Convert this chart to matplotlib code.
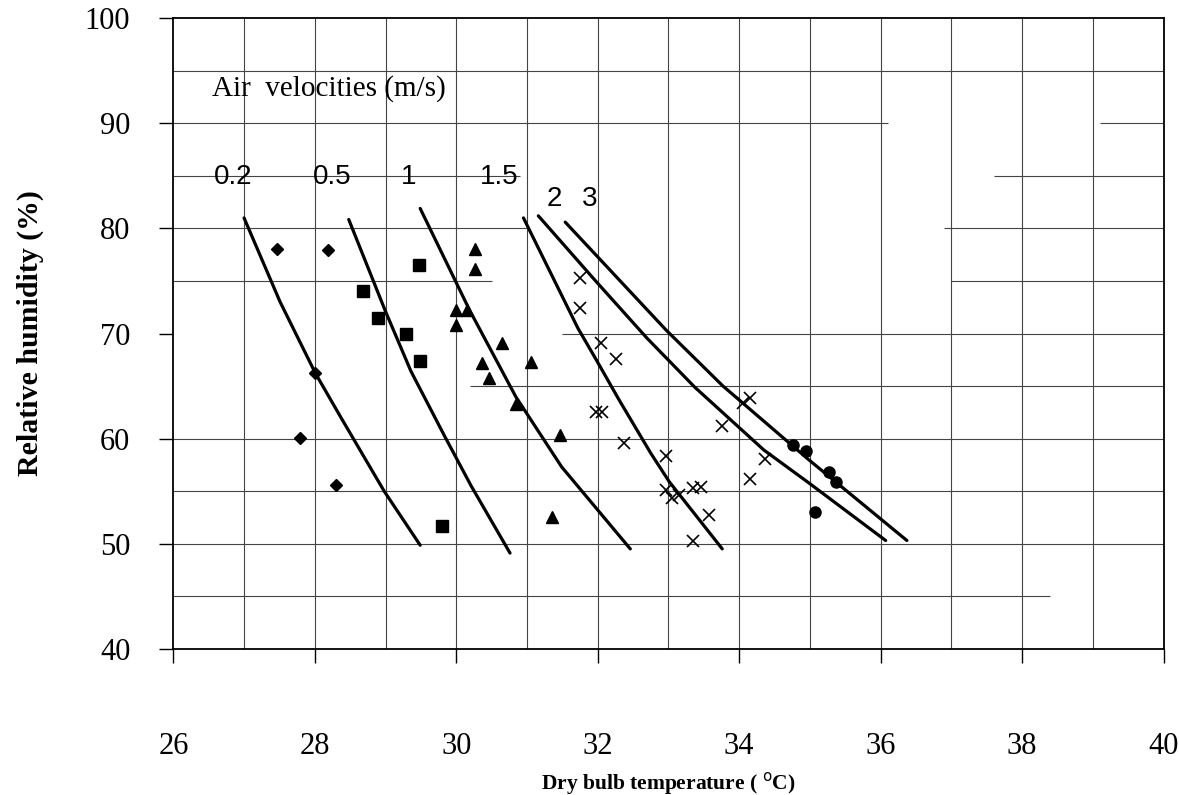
import matplotlib
matplotlib.use("Agg")
import matplotlib.pyplot as plt
import numpy as np

# measured points (dry bulb temperature, relative humidity)
diamond_t = [27.47, 28.18, 28.00, 27.79, 28.30]
diamond_rh = [78.0, 77.9, 66.2, 60.1, 55.6]

square_t = [29.48, 28.68, 28.89, 29.29, 29.49, 29.80]
square_rh = [76.5, 74.05, 71.5, 70.0, 67.4, 51.7]

triangle_t = [30.26, 30.26, 29.99, 30.15, 29.99, 30.64, 30.37, 31.05, 30.46, 30.84, 31.46, 31.36]
triangle_rh = [78.0, 76.1, 72.2, 72.2, 70.8, 69.1, 67.2, 67.3, 65.8, 63.3, 60.3, 52.5]

cross_t = [31.75, 31.75, 32.05, 32.26, 31.97, 32.06, 32.37, 32.97, 32.96, 33.05,
           33.15, 33.34, 33.46, 33.57, 33.35, 33.75, 34.05, 34.15, 34.15, 34.36]
cross_rh = [75.3, 72.4, 69.05, 67.6, 62.55, 62.55, 59.6, 58.3, 55.1, 54.3,
            54.6, 55.3, 55.4, 52.7, 50.25, 61.2, 63.4, 63.9, 56.2, 58.05]

circle_t = [34.76, 34.95, 35.27, 35.37, 35.07]
circle_rh = [59.4, 58.8, 56.8, 55.9, 53.0]

# comfort curves for each air velocity
velocities = ["0.2", "0.5", "1", "1.5", "2", "3"]
curve_t = [
    [27.00, 27.51, 28.01, 28.37, 28.98, 29.49],
    [28.48, 29.00, 29.36, 29.83, 30.21, 30.76],
    [29.49, 30.19, 30.84, 31.49, 32.46],
    [30.95, 31.72, 31.97, 32.30, 32.75, 33.01, 33.76],
    [31.16, 31.97, 32.69, 33.37, 34.35, 34.98, 36.07],
    [31.54, 32.97, 33.77, 34.98, 36.37],
]
curve_rh = [
    [81.0, 73.0, 66.2, 62.0, 55.0, 49.85],
    [80.85, 72.1, 66.4, 60.3, 55.5, 49.1],
    [81.9, 72.2, 64.0, 57.3, 49.5],
    [81.0, 70.5, 67.6, 63.7, 58.6, 55.9, 49.5],
    [81.2, 75.0, 69.6, 64.9, 58.9, 55.8, 50.3],
    [80.6, 70.3, 65.0, 58.0, 50.3],
]
label_t = [26.84, 28.25, 29.32, 30.61, 31.38, 31.88]
label_rh = [84.9, 84.9, 84.9, 84.9, 82.8, 82.8]

x_ticks = [26, 28, 30, 32, 34, 36, 38, 40]
y_ticks = [40, 50, 60, 70, 80, 90, 100]

serif = "Liberation Serif"
sans = "Liberation Sans"

fig = plt.figure(figsize=(11.79, 7.95), dpi=100)
ax = fig.add_axes([0.147, 0.184, 0.840, 0.793])
ax.set_xlim(26, 40)
ax.set_ylim(40, 100)

# scanned grid: vertical every degree, horizontal every 5 % (some parts missing)
ax.vlines(np.arange(27, 40), 40, 100, color="#444444", lw=0.8, zorder=0)
h_segments = [
    (95, 26, 40), (90, 26, 36.1), (90, 39.1, 40), (85, 26, 30.9), (85, 37.6, 40),
    (80, 26, 31.0), (80, 36.9, 40), (75, 26, 30.5), (75, 37.0, 40),
    (70, 31.5, 40), (65, 30.2, 40), (60, 26, 40), (55, 26, 40), (50, 26, 40),
    (45, 26, 38.4),
]
for y, x0, x1 in h_segments:
    ax.hlines(y, x0, x1, color="#444444", lw=0.8, zorder=0)

for t, rh in zip(curve_t, curve_rh):
    ax.plot(t, rh, color="black", lw=2.3, solid_capstyle="round",
            solid_joinstyle="round", zorder=2)

ax.plot(diamond_t, diamond_rh, "D", color="black", ms=6.5, ls="none", zorder=3)
ax.plot(square_t, square_rh, "s", color="black", ms=8, ls="none", zorder=3)
ax.plot(triangle_t, triangle_rh, "^", color="black", ms=8.5, ls="none", zorder=3)
ax.plot(cross_t, cross_rh, "x", color="black", ms=8, mew=1.2, ls="none", zorder=3)
ax.plot(circle_t, circle_rh, "o", color="black", ms=8, ls="none", zorder=3)

for v, t, rh in zip(velocities, label_t, label_rh):
    ax.text(t, rh, v, family=sans, fontsize=20, ha="center", va="center", zorder=4)
ax.text(26.55, 93.3, "Air  velocities (m/s)", family=serif, fontsize=21,
        ha="left", va="center", zorder=4)

ax.set_xticks(x_ticks)
ax.set_yticks(y_ticks)
ax.set_xticklabels([str(v) for v in x_ticks], family=serif)
ax.set_yticklabels([str(v) for v in y_ticks], family=serif)
ax.tick_params(axis="x", direction="out", length=10, width=1, pad=50, labelsize=22)
ax.tick_params(axis="y", direction="out", length=10, width=1, pad=21, labelsize=22)
for s in ax.spines.values():
    s.set_linewidth(1.3)
    s.set_color("black")

ax.set_xlabel(r"Dry bulb temperature ( $^{\mathrm{o}}$C)", family=serif,
              fontsize=15.5, fontweight="bold")
ax.xaxis.set_label_coords(0.5, -0.213)
ax.xaxis.label.set_va("center")
ax.set_ylabel("Relative humidity (%)", family=serif, fontsize=21.5, fontweight="bold")
ax.yaxis.set_label_coords(-0.144, 0.5)
ax.yaxis.label.set_va("center")

fig.savefig("out.png", dpi=100)
